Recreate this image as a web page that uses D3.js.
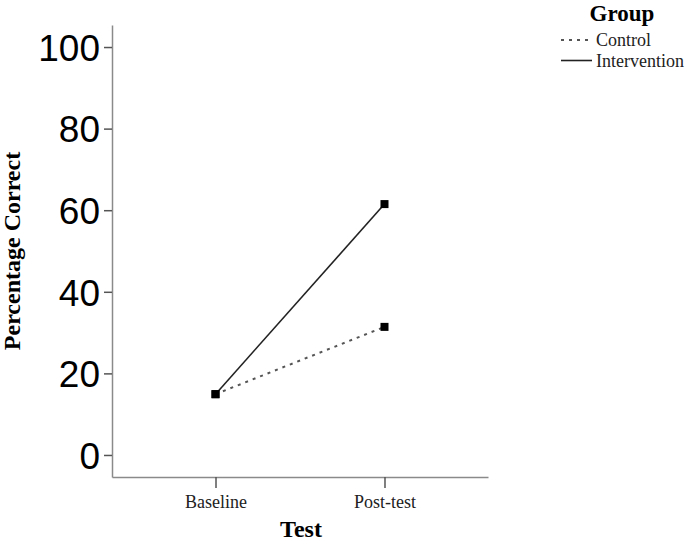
<!DOCTYPE html>
<html><head><meta charset="utf-8">
<script src="https://cdn.jsdelivr.net/npm/d3@7"></script>
<style>body{margin:0;background:#fff}svg{display:block}</style>
</head><body>
<script>
const categories = ["Baseline", "Post-test"];
const groups = ["Control", "Intervention"];
const controlValues = [14.9, 31.4];
const interventionValues = [14.9, 61.5];
const yTicks = [0, 20, 40, 60, 80, 100];

const W = 685, H = 543;
const svg = d3.select("body").append("svg").attr("width", W).attr("height", H);

const x = d3.scalePoint().domain(categories).range([112, 488]).padding(0.6125);
const y = d3.scaleLinear().domain([-5.4, 105.4]).range([477, 25]);

const axisColor = "#8a8a8a";

// Y axis
const yAxis = svg.append("g").attr("transform", "translate(112,0)")
  .call(d3.axisLeft(y).tickValues(yTicks).tickSize(8).tickPadding(4).tickSizeOuter(0));
yAxis.select(".domain").attr("stroke", axisColor).attr("stroke-width", 1.5);
yAxis.selectAll(".tick line").attr("stroke", "#555").attr("stroke-width", 1.5);
yAxis.selectAll(".tick text").attr("font-family", "Liberation Sans, Arial, sans-serif")
  .attr("font-size", 37).attr("fill", "#000").attr("dy", "0.36em");

// X axis
const xAxis = svg.append("g").attr("transform", "translate(0,477)")
  .call(d3.axisBottom(x).tickSize(11).tickPadding(7).tickSizeOuter(0));
xAxis.select(".domain").attr("stroke", axisColor).attr("stroke-width", 1.5);
xAxis.selectAll(".tick line").attr("stroke", "#555").attr("stroke-width", 1.5);
xAxis.selectAll(".tick text").attr("font-family", "Liberation Serif, Times New Roman, serif")
  .attr("font-size", 18).attr("fill", "#222");

// axis titles
svg.append("text").attr("x", 301).attr("y", 537).attr("text-anchor", "middle")
  .attr("font-family", "Liberation Serif, Times New Roman, serif").attr("font-weight", "bold")
  .attr("font-size", 24).text("Test");
svg.append("text").attr("transform", "translate(20,251) rotate(-90)").attr("text-anchor", "middle")
  .attr("font-family", "Liberation Serif, Times New Roman, serif").attr("font-weight", "bold")
  .attr("font-size", 24).text("Percentage Correct");

// lines
const line = d3.line().x((d, i) => x(categories[i])).y(d => y(d));
svg.append("path").datum(controlValues).attr("d", line).attr("fill", "none")
  .attr("stroke", "#555").attr("stroke-width", 2).attr("stroke-dasharray", "3,5");
svg.append("path").datum(interventionValues).attr("d", line).attr("fill", "none")
  .attr("stroke", "#222").attr("stroke-width", 1.6);

// markers
const ms = 8;
[controlValues, interventionValues].forEach(vals => {
  svg.append("g").selectAll("rect").data(vals).join("rect")
    .attr("x", (d, i) => x(categories[i]) - ms / 2).attr("y", d => y(d) - ms / 2)
    .attr("width", ms).attr("height", ms).attr("fill", "#000");
});

// legend
const lg = svg.append("g");
lg.append("text").attr("x", 622).attr("y", 21).attr("text-anchor", "middle")
  .attr("font-family", "Liberation Serif, Times New Roman, serif").attr("font-weight", "bold")
  .attr("font-size", 23).text("Group");
const legendY = [40, 60.5];
groups.forEach((g, i) => {
  lg.append("line").attr("x1", 561).attr("x2", i === 0 ? 589 : 592)
    .attr("y1", legendY[i]).attr("y2", legendY[i])
    .attr("stroke", i === 0 ? "#555" : "#222").attr("stroke-width", i === 0 ? 2 : 1.6)
    .attr("stroke-dasharray", i === 0 ? "3,5" : null);
  lg.append("text").attr("x", 596).attr("y", legendY[i] + 6)
    .attr("font-family", "Liberation Serif, Times New Roman, serif").attr("font-size", 18)
    .attr("fill", "#222").text(g);
});
</script>
</body></html>
